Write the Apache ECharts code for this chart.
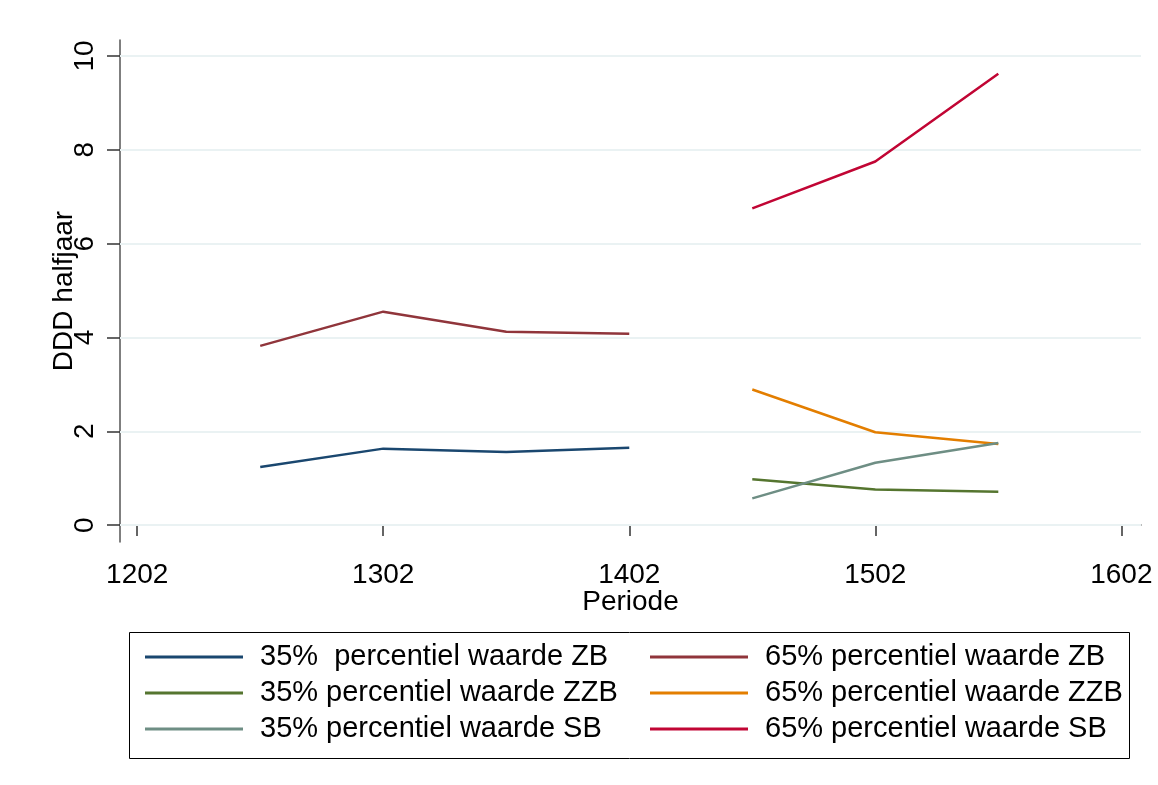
<!DOCTYPE html>
<html>
<head>
<meta charset="utf-8">
<script src="https://cdn.jsdelivr.net/npm/echarts@6/dist/echarts.min.js"></script>
<style>
  html, body { margin: 0; padding: 0; background: #fff; }
  #grafiek { width: 1158px; height: 785px; }
</style>
</head>
<body>
<div id="grafiek"></div>
<script>
// periodes (x) en waarden per reeks
var periodesZB = [1252, 1302, 1352, 1402];
var periodesRest = [1452, 1502, 1552];
var xTicks = [1202, 1302, 1402, 1502, 1602];
var yTicks = [0, 2, 4, 6, 8, 10];

var p35ZB = [1.24, 1.63, 1.56, 1.65];
var p65ZB = [3.82, 4.55, 4.12, 4.08];
var p35ZZB = [0.98, 0.76, 0.71];
var p65ZZB = [2.89, 1.98, 1.73];
var p35SB = [0.57, 1.33, 1.75];
var p65SB = [6.75, 7.75, 9.62];

var font = '"Liberation Sans", Arial, sans-serif';

function pairs(xs, ys) {
  return xs.map(function (x, i) { return [x, ys[i]]; });
}

function lijn(naam, kleur, xs, ys) {
  return {
    name: naam,
    type: 'line',
    z: 3,
    symbol: 'none',
    color: kleur,
    lineStyle: { color: kleur, width: 2.5 },
    data: pairs(xs, ys)
  };
}

var grafiek = echarts.init(document.getElementById('grafiek'));

var option = {
  backgroundColor: '#fff',
  animation: false,
  grid: { left: 120, right: 17, top: 40, bottom: 243 },
  xAxis: {
    type: 'value',
    min: 1195,
    max: 1610,
    name: 'Periode',
    nameLocation: 'middle',
    nameGap: 46,
    nameMoveOverlap: false,
    nameTextStyle: { fontFamily: font, fontSize: 28, color: '#000' },
    axisLine: { show: true, lineStyle: { color: '#555', width: 1.5 } },
    axisTick: { show: true, length: 11, customValues: xTicks, lineStyle: { color: '#333', width: 1.5 } },
    axisLabel: {
      customValues: xTicks, margin: 19, fontFamily: font, fontSize: 28, color: '#000',
      formatter: function (v) { return String(v); }
    },
    splitLine: { show: false }
  },
  yAxis: {
    type: 'value',
    min: -0.36,
    max: 10.34,
    name: 'DDD halfjaar',
    nameLocation: 'middle',
    nameGap: 42,
    nameMoveOverlap: false,
    nameTextStyle: { fontFamily: font, fontSize: 28, color: '#000' },
    axisLine: { show: true, lineStyle: { color: '#555', width: 1.5 } },
    axisTick: { show: true, length: 13, customValues: yTicks, lineStyle: { color: '#333', width: 1.5 } },
    axisLabel: {
      customValues: yTicks, rotate: 90, margin: 21, fontFamily: font, fontSize: 28, color: '#000',
      formatter: function (v) { return String(v); }
    },
    splitLine: { show: false }
  },
  legend: [
    {
      left: 145, top: 639, orient: 'vertical', padding: 0, itemGap: 0,
      icon: 'rect', itemWidth: 98, itemHeight: 3,
      textStyle: { fontFamily: font, fontSize: 29, lineHeight: 36, color: '#000', padding: [0, 0, 0, 12] },
      data: ['35%  percentiel waarde ZB', '35% percentiel waarde ZZB', '35% percentiel waarde SB']
    },
    {
      left: 650, top: 639, orient: 'vertical', padding: 0, itemGap: 0,
      icon: 'rect', itemWidth: 98, itemHeight: 3,
      textStyle: { fontFamily: font, fontSize: 29, lineHeight: 36, color: '#000', padding: [0, 0, 0, 12] },
      data: ['65% percentiel waarde ZB', '65% percentiel waarde ZZB', '65% percentiel waarde SB']
    }
  ],
  graphic: [
    {
      type: 'rect', left: 127, top: 630, silent: true,
      shape: { width: 1000, height: 126 },
      style: { fill: 'none', stroke: '#000', lineWidth: 1 }
    }
  ],
  series: [
    {
      name: 'raster',
      type: 'line',
      z: 1,
      data: [],
      markLine: {
        z: 1,
        silent: true,
        symbol: 'none',
        label: { show: false },
        lineStyle: { color: '#eaf2f3', width: 2, type: 'solid' },
        data: yTicks.map(function (v) { return { yAxis: v }; })
      }
    },
    lijn('35%  percentiel waarde ZB', '#1a476f', periodesZB, p35ZB),
    lijn('65% percentiel waarde ZB', '#90353b', periodesZB, p65ZB),
    lijn('35% percentiel waarde ZZB', '#55752f', periodesRest, p35ZZB),
    lijn('65% percentiel waarde ZZB', '#e37e00', periodesRest, p65ZZB),
    lijn('35% percentiel waarde SB', '#6e8e84', periodesRest, p35SB),
    lijn('65% percentiel waarde SB', '#c10534', periodesRest, p65SB)
  ]
};
grafiek.setOption(option);
</script>
</body>
</html>
